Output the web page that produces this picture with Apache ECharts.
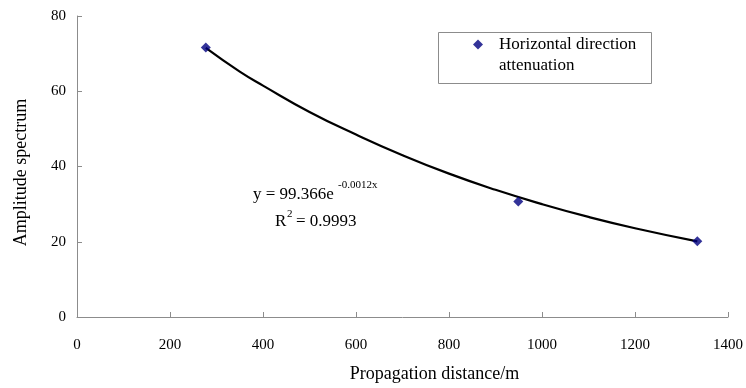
<!DOCTYPE html>
<html>
<head>
<meta charset="utf-8">
<script src="https://cdn.jsdelivr.net/npm/echarts@6/dist/echarts.min.js"></script>
<style>html,body{margin:0;padding:0;background:#fff}#c{width:746px;height:388px}</style>
</head>
<body>
<div id="c"></div>
<script>
// measured points
const pointX = [277, 949, 1334];
const pointY = [71.6, 30.7, 20.1];
// trend curve
const trendX = [277, 350, 400, 500, 600, 700, 800, 900, 1000, 1100, 1200, 1334];
const trendY = [71.5, 65.2, 61.5, 54.5, 48.5, 43.0, 38.1, 33.8, 30.0, 26.6, 23.6, 20.1];
const xTicks = [0, 200, 400, 600, 800, 1000, 1200, 1400];
const yTicks = [0, 20, 40, 60, 80];
const seriesName = 'Horizontal direction';

const FONT = '"Liberation Serif", "Times New Roman", serif';
const chart = echarts.init(document.getElementById('c'), null, {renderer: 'canvas'});

const axisCommon = {
  type: 'value',
  axisLine: {show: true, lineStyle: {color: '#8c8c8c', width: 1}},
  axisTick: {show: true, inside: true, length: 5, lineStyle: {color: '#8c8c8c'}},
  splitLine: {show: false},
  axisLabel: {color: '#000', fontFamily: FONT, fontSize: 15, formatter: v => String(v)}
};

chart.setOption({
  animation: false,
  backgroundColor: '#fff',
  grid: {left: 77, right: 17, top: 16, bottom: 67, containLabel: false},
  xAxis: Object.assign({}, axisCommon, {
    min: xTicks[0], max: xTicks[xTicks.length - 1], interval: 200,
    name: 'Propagation distance/m', nameLocation: 'middle', nameGap: 48,
    nameTextStyle: {color: '#000', fontFamily: FONT, fontSize: 18, padding: [0, 0, 0, 64]},
    axisLabel: Object.assign({}, axisCommon.axisLabel, {margin: 21})
  }),
  yAxis: Object.assign({}, axisCommon, {
    min: yTicks[0], max: yTicks[yTicks.length - 1], interval: 20,
    name: 'Amplitude spectrum', nameLocation: 'middle', nameGap: 47,
    nameTextStyle: {color: '#000', fontFamily: FONT, fontSize: 18, padding: [0, 12, 0, 0]},
    axisLabel: Object.assign({}, axisCommon.axisLabel, {margin: 11})
  }),
  legend: {
    data: [seriesName],
    left: 473, top: 36, padding: 0,
    itemWidth: 10, itemHeight: 10, itemGap: 0,
    textStyle: {color: '#000', fontFamily: FONT, fontSize: 17, padding: [0, 0, 0, 11]}
  },
  graphic: [
    {type: 'rect', left: 438, top: 32, z: -1, silent: true,
     shape: {width: 213, height: 51}, style: {fill: '#fff', stroke: '#8c8c8c', lineWidth: 1}},
    {type: 'text', left: 499, top: 57, silent: true,
     style: {text: 'attenuation', fill: '#000', font: '17px ' + FONT}},
    {type: 'text', left: 253, top: 186, silent: true,
     style: {text: 'y = 99.366e', fill: '#000', font: '17px ' + FONT}},
    {type: 'text', left: 338, top: 180, silent: true,
     style: {text: '-0.0012x', fill: '#000', font: '11px ' + FONT}},
    {type: 'text', left: 275, top: 213, silent: true,
     style: {text: 'R', fill: '#000', font: '17px ' + FONT}},
    {type: 'text', left: 287, top: 209, silent: true,
     style: {text: '2', fill: '#000', font: '11px ' + FONT}},
    {type: 'text', left: 296, top: 213, silent: true,
     style: {text: '= 0.9993', fill: '#000', font: '17px ' + FONT}}
  ],
  series: [
    {
      name: 'trend', type: 'line', smooth: true, showSymbol: false, symbol: 'none',
      data: trendX.map((x, i) => [x, trendY[i]]),
      lineStyle: {color: '#000', width: 2.2}, z: 2
    },
    {
      name: seriesName, type: 'scatter', symbol: 'diamond', symbolSize: 10,
      data: pointX.map((x, i) => [x, pointY[i]]),
      itemStyle: {color: '#000080'}, z: 3
    }
  ]
});
</script>
</body>
</html>
